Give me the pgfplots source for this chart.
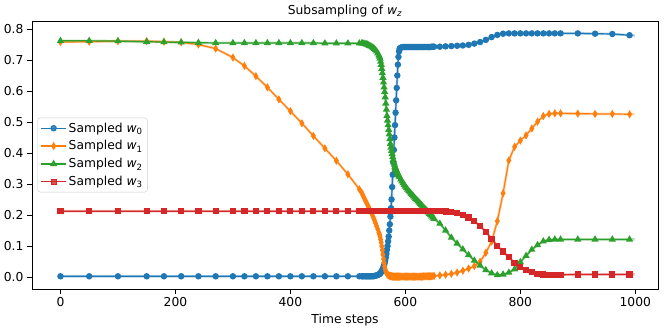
\documentclass[border=0pt]{standalone}
\usepackage{fontspec}
\setmainfont{DejaVu Sans}
\usepackage{pgfplots}
\usepackage{pgfplotstable}
\pgfplotsset{compat=1.18}
\definecolor{c0}{HTML}{1F77B4}
\definecolor{c1}{HTML}{FF7F0E}
\definecolor{c2}{HTML}{2CA02C}
\definecolor{c3}{HTML}{D62728}
\pgfplotstableread{
t w0 w1 w2 w3
0 0.002 0.758 0.762 0.212
50 0.002 0.759 0.762 0.212
100 0.002 0.761 0.761 0.212
150 0.002 0.761 0.759 0.212
180 0.002 0.759 0.758 0.212
210 0.002 0.757 0.757 0.212
240 0.002 0.750 0.756 0.212
270 0.002 0.737 0.755 0.212
300 0.002 0.708 0.755 0.212
320 0.002 0.681 0.755 0.212
340 0.002 0.648 0.755 0.212
360 0.002 0.612 0.755 0.212
380 0.002 0.573 0.755 0.212
400 0.002 0.535 0.755 0.212
420 0.002 0.496 0.755 0.212
440 0.002 0.455 0.755 0.212
460 0.002 0.415 0.754 0.212
480 0.002 0.375 0.754 0.212
500 0.002 0.331 0.754 0.212
520 0.002 0.283 0.754 0.212
524 0.002 0.272 0.754 0.212
526 0.002 0.264 0.754 0.212
528 0.002 0.256 0.753 0.212
530 0.002 0.248 0.752 0.212
532 0.002 0.241 0.751 0.212
534 0.002 0.233 0.750 0.212
536 0.002 0.226 0.748 0.212
538 0.002 0.218 0.746 0.212
540 0.002 0.210 0.744 0.212
542 0.002 0.202 0.742 0.212
544 0.002 0.193 0.739 0.212
546 0.003 0.184 0.736 0.212
548 0.004 0.174 0.732 0.212
550 0.005 0.164 0.728 0.212
552 0.006 0.154 0.722 0.212
554 0.008 0.143 0.715 0.212
555 0.009 0.137 0.711 0.212
556 0.011 0.130 0.705 0.212
557 0.013 0.121 0.695 0.212
558 0.016 0.111 0.685 0.212
559 0.019 0.099 0.672 0.212
560 0.023 0.086 0.658 0.212
561 0.027 0.072 0.643 0.212
562 0.032 0.058 0.628 0.212
563 0.038 0.045 0.612 0.212
564 0.045 0.034 0.597 0.212
565 0.053 0.025 0.580 0.212
566 0.063 0.018 0.560 0.212
567 0.075 0.013 0.540 0.212
568 0.088 0.010 0.520 0.212
569 0.100 0.008 0.505 0.212
570 0.115 0.006 0.490 0.212
571 0.130 0.005 0.475 0.212
572 0.150 0.004 0.460 0.212
573 0.170 0.003 0.445 0.212
574 0.195 0.003 0.430 0.212
575 0.222 0.002 0.418 0.212
576 0.250 0.002 0.407 0.212
577 0.290 0.002 0.397 0.212
578 0.330 0.001 0.387 0.212
579 0.370 0.001 0.378 0.212
580 0.410 0.001 0.370 0.212
581 0.450 0.001 0.363 0.212
582 0.490 0.001 0.356 0.212
583 0.530 0.001 0.351 0.212
584 0.570 0.001 0.346 0.212
585 0.610 0.001 0.341 0.212
586 0.650 0.001 0.337 0.212
587 0.685 0.001 0.333 0.212
588 0.710 0.001 0.329 0.212
589 0.728 0.001 0.325 0.212
590 0.737 0.001 0.322 0.212
592 0.740 0.001 0.315 0.212
594 0.741 0.001 0.309 0.212
596 0.742 0.001 0.303 0.212
598 0.742 0.001 0.297 0.212
600 0.742 0.001 0.292 0.212
602 0.742 0.001 0.287 0.212
604 0.742 0.001 0.282 0.212
606 0.742 0.001 0.277 0.212
608 0.742 0.001 0.273 0.212
610 0.742 0.001 0.268 0.212
612 0.742 0.001 0.264 0.212
614 0.742 0.001 0.260 0.212
616 0.742 0.001 0.256 0.212
618 0.742 0.001 0.252 0.212
620 0.742 0.001 0.248 0.212
622 0.742 0.001 0.244 0.212
624 0.742 0.001 0.240 0.212
626 0.742 0.001 0.236 0.212
628 0.742 0.001 0.232 0.212
630 0.742 0.001 0.228 0.212
632 0.742 0.002 0.224 0.212
634 0.742 0.002 0.220 0.212
636 0.742 0.002 0.216 0.212
638 0.742 0.002 0.212 0.212
640 0.742 0.002 0.208 0.212
642 0.742 0.002 0.204 0.212
644 0.742 0.002 0.200 0.212
646 0.743 0.002 0.196 0.212
648 0.743 0.003 0.192 0.212
650 0.743 0.003 0.188 0.212
660 0.743 0.005 0.172 0.212
670 0.744 0.007 0.150 0.211
680 0.745 0.010 0.127 0.209
690 0.746 0.014 0.108 0.206
700 0.747 0.020 0.089 0.200
710 0.749 0.027 0.071 0.192
720 0.753 0.035 0.053 0.180
730 0.758 0.049 0.037 0.164
740 0.765 0.078 0.022 0.146
750 0.774 0.114 0.012 0.123
760 0.781 0.180 0.006 0.100
770 0.785 0.270 0.008 0.082
780 0.786 0.376 0.014 0.063
790 0.786 0.420 0.025 0.046
800 0.786 0.440 0.048 0.033
810 0.786 0.457 0.068 0.023
820 0.786 0.479 0.088 0.015
830 0.786 0.501 0.103 0.010
840 0.786 0.519 0.115 0.008
850 0.786 0.526 0.120 0.007
860 0.786 0.528 0.121 0.007
870 0.786 0.528 0.121 0.007
900 0.786 0.527 0.121 0.008
930 0.785 0.526 0.121 0.008
960 0.784 0.526 0.121 0.008
990 0.780 0.525 0.121 0.008
999 0.779 0.525 0.121 0.008
}\data
\begin{document}
\begin{tikzpicture}[font=\fontsize{12.3}{14.8}\selectfont]
\useasboundingbox (-32pt,-39pt) rectangle (632pt,289pt);
\begin{axis}[
  at={(0,0)}, anchor=south west,
  scale only axis, width=626pt, height=268pt,
  xmin=-49.5, xmax=1039.5, ymin=-0.039, ymax=0.826,
  xtick={0,200,400,600,800,1000},
  ytick={0,0.1,0.2,0.3,0.4,0.5,0.6,0.7,0.8},
  /pgf/number format/assume math mode=true,
  /pgf/number format/1000 sep={},
  yticklabel style={/pgf/number format/.cd, fixed, fixed zerofill, precision=1},
  tick align=outside, xtick pos=left, ytick pos=left,
  major tick length=5pt,
  every tick/.style={black, line width=0.8pt},
  axis line style={line width=0.8pt},
  title={Subsampling of {\itshape w}\textsubscript{\itshape z}},
  every axis title/.style={at={(0.5,1)}, anchor=base, yshift=6.5pt},
  xlabel={Time steps},
  legend style={at={(0.0085,0.5)}, anchor=west, draw=black!20, rounded corners=3pt,
    fill=white, fill opacity=0.8, text opacity=1, inner sep=3pt, row sep=3pt,
    cells={anchor=west}, /tikz/every even column/.append style={column sep=6pt}},
  legend image code/.code={\draw[mark repeat=2,mark phase=2,#1] plot coordinates {(0pt,0pt) (12.5pt,0pt) (25pt,0pt)};},
]
\addplot[c0, line width=2.5pt, opacity=0.35, forget plot] table[x=t,y=w0]{\data};
\addplot[c1, line width=2.5pt, opacity=0.35, forget plot] table[x=t,y=w1]{\data};
\addplot[c2, line width=2.5pt, opacity=0.35, forget plot] table[x=t,y=w2]{\data};
\addplot[c3, line width=2.5pt, opacity=0.35, forget plot] table[x=t,y=w3]{\data};
\addplot[c0, line width=1.2pt, mark=*, mark size=2.6pt, mark options={solid, fill=c0, draw=c0},
  restrict x to domain=-10:995] table[x=t,y=w0]{\data};
\addlegendentry{Sampled {\itshape w}\textsubscript{0}}
\addplot[c1, line width=1.2pt, mark=diamond*, mark size=3pt, mark options={solid, fill=c1, draw=c1, xscale=0.8},
  restrict x to domain=-10:995] table[x=t,y=w1]{\data};
\addlegendentry{Sampled {\itshape w}\textsubscript{1}}
\addplot[c2, line width=1.2pt, mark=triangle*, mark size=3pt, mark options={solid, fill=c2, draw=c2},
  restrict x to domain=-10:995] table[x=t,y=w2]{\data};
\addlegendentry{Sampled {\itshape w}\textsubscript{2}}
\addplot[c3, line width=1.2pt, mark=square*, mark size=2.5pt, mark options={solid, fill=c3, draw=c3},
  restrict x to domain=-10:995] table[x=t,y=w3]{\data};
\addlegendentry{Sampled {\itshape w}\textsubscript{3}}
\end{axis}
\end{tikzpicture}
\end{document}
